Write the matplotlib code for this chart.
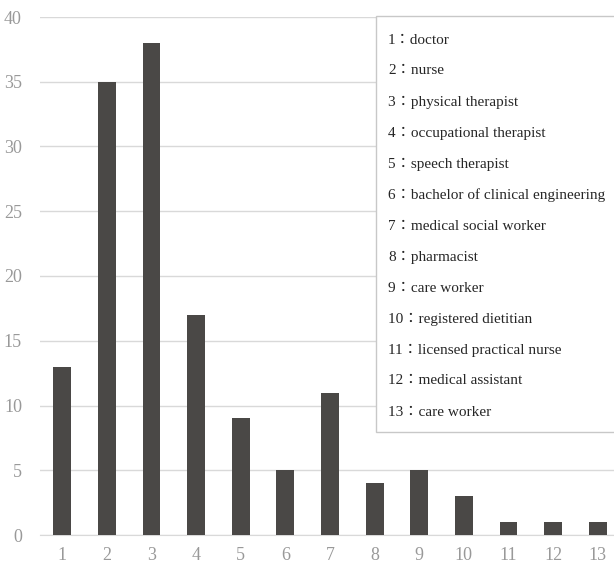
import matplotlib
matplotlib.use("Agg")
import matplotlib.pyplot as plt
from matplotlib.patches import Rectangle

categories = [str(i) for i in range(1, 14)]
counts = [13, 35, 38, 17, 9, 5, 11, 4, 5, 3, 1, 1, 1]
occupations = ["doctor", "nurse", "physical therapist", "occupational therapist",
               "speech therapist", "bachelor of clinical engineering",
               "medical social worker", "pharmacist", "care worker",
               "registered dietitian", "licensed practical nurse",
               "medical assistant", "care worker"]

plt.rcParams['font.family'] = ['Liberation Serif', 'Noto Sans CJK JP']

fig = plt.figure(figsize=(6.14, 5.65), dpi=100)
W, H = 614, 565
# axes placed in pixel terms, right edge runs slightly past the image
ax = fig.add_axes([40 / W, (H - 535) / H, 580 / W, 518 / H])

x = list(range(1, 14))
ax.bar(x, counts, width=0.4, color='#4a4846', zorder=3)
ax.set_xlim(0.5, 13.5)
ax.set_ylim(0, 40)
ax.set_xticks(x)
ax.set_xticklabels(categories)
ax.set_yticks(range(0, 41, 5))
ax.yaxis.grid(True, color='#d9d9d9', linewidth=1)
ax.set_axisbelow(True)
for s in ['top', 'right', 'left']:
    ax.spines[s].set_visible(False)
ax.spines['bottom'].set_color('#d9d9d9')
ax.tick_params(axis='both', length=0, colors='#999999', labelsize=13)
ax.tick_params(axis='x', pad=9)
ax.tick_params(axis='y', pad=13)

# label box
fig.patches.append(Rectangle((376 / W, (H - 432) / H), 250 / W, 416 / H,
                             transform=fig.transFigure, facecolor='white',
                             edgecolor='#c8c8c8', linewidth=1, zorder=5))
for i, name in enumerate(occupations):
    y = 40 + 31 * i
    fig.text(388 / W, 1 - y / H, f"{i + 1}：{name}", fontsize=11,
             color='#262626', va='center', ha='left', zorder=6)

fig.savefig("out.png", dpi=100)
